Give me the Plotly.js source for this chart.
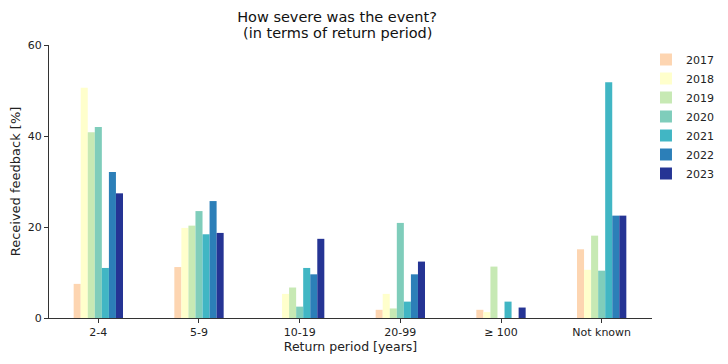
<!DOCTYPE html>
<html>
<head>
<meta charset="utf-8">
<script src="https://cdn.plot.ly/plotly-3.0.1.min.js"></script>
<style>html,body{margin:0;padding:0;background:#fff;}#chart{width:728px;height:364px;}</style>
</head>
<body>
<div id="chart"></div>
<script>
const categories = ["2-4", "5-9", "10-19", "20-99", "\u2265 100", "Not known"];
const years = ["2017", "2018", "2019", "2020", "2021", "2022", "2023"];
const v2017 = [7.5, 11.2, 0, 1.8, 1.8, 15.1];
const v2018 = [50.6, 19.8, 5.3, 5.3, 1.3, 10.6];
const v2019 = [40.8, 20.3, 6.7, 2.1, 11.3, 18.1];
const v2020 = [42.0, 23.5, 2.5, 20.9, 0, 10.4];
const v2021 = [11.0, 18.4, 11.0, 3.6, 3.6, 51.8];
const v2022 = [32.1, 25.7, 9.6, 9.6, 0, 22.5];
const v2023 = [27.4, 18.7, 17.4, 12.4, 2.3, 22.5];
const series = [v2017, v2018, v2019, v2020, v2021, v2022, v2023];
const colors = ["#fdd5b1", "#ffffcc", "#c7e9b4", "#7fcdbb", "#41b6c4", "#2c7fb8", "#253494"];
const titleLine1 = "How severe was the event?";
const titleLine2 = "(in terms of return period)";

const traces = years.map((y, i) => ({
  type: "bar",
  name: y,
  x: categories,
  y: series[i],
  marker: {color: colors[i], line: {width: 0}}
}));

const layout = {
  width: 728, height: 364,
  margin: {l: 49, r: 76, t: 45, b: 46, autoexpand: false},
  paper_bgcolor: "#fff", plot_bgcolor: "#fff",
  font: {family: "DejaVu Sans, sans-serif", size: 11, color: "#222"},
  title: {text: titleLine1, xref: "container", x: 337/728, xanchor: "center", yref: "container", y: 1 - 17/364, yanchor: "middle", font: {size: 14.5, color: "#111"}},
  annotations: [{
    text: titleLine2, xref: "paper", x: (337 - 49) / 603, xanchor: "center",
    yref: "paper", y: (318 - 33) / 273, yanchor: "middle", showarrow: false,
    font: {size: 14.5, color: "#111"}
  }],
  barmode: "group",
  bargap: 0.51,
  bargroupgap: 0,
  xaxis: {
    type: "category",
    range: [-0.49, 5.5],
    showline: true, linecolor: "#333", linewidth: 1,
    ticks: "outside", ticklen: 4, tickcolor: "#333",
    showgrid: false, zeroline: false,
    tickfont: {size: 11},
    title: {text: "Return period [years]", font: {size: 12.5}, standoff: 3}
  },
  yaxis: {
    range: [0, 60],
    tickvals: [0, 20, 40, 60],
    showline: true, linecolor: "#333", linewidth: 1,
    ticks: "outside", ticklen: 4, tickcolor: "#333",
    showgrid: false, zeroline: false,
    tickfont: {size: 11},
    title: {text: "Received feedback [%]", font: {size: 13}, standoff: 4}
  },
  legend: {x: 0.99, xanchor: "left", y: 1.0, yanchor: "top", font: {size: 11}, tracegroupgap: 0, itemwidth: 30}
};

Plotly.newPlot("chart", traces, layout, {displayModeBar: false, staticPlot: true});
</script>
</body>
</html>
